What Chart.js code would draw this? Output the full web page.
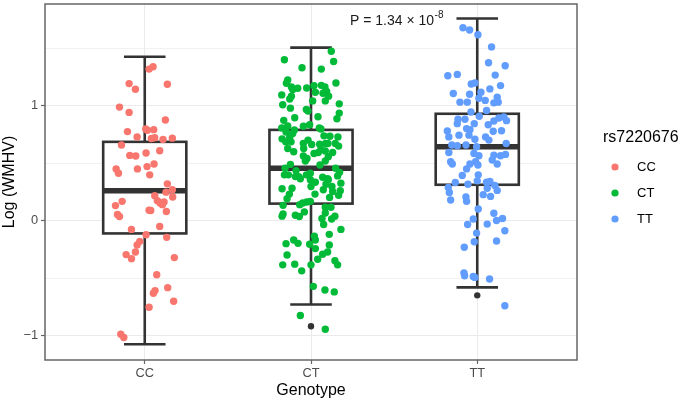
<!DOCTYPE html>
<html>
<head>
<meta charset="utf-8">
<script src="https://cdn.jsdelivr.net/npm/chart.js@4.4.1/dist/chart.umd.min.js"></script>
<style>
  html, body { margin: 0; padding: 0; background: #fff; }
  #wrap { width: 683px; height: 403px; }
</style>
</head>
<body>
<div id="wrap"><canvas id="chart" width="683" height="403"></canvas></div>
<script>
// genotype groups on the x axis
const genotypes = ['CC', 'CT', 'TT'];
const genoColors = ['#F8766D', '#00BA38', '#619CFF'];

// box stats (log WMHV)
const whiskerLow = [-1.072, -0.727, -0.578];
const boxQ1 = [-0.109, 0.150, 0.314];
const boxMedian = [0.262, 0.457, 0.644];
const boxQ3 = [0.687, 0.791, 0.931];
const whiskerHigh = [1.426, 1.506, 1.759];
const outlierGroup = [2, 3];
const outlierValue = [-0.916, -0.647];

// y ticks (major labelled, minor just grid)
const yTicks = [-1, -0.5, 0, 0.5, 1, 1.5];
const yLabels = { '-1': '\u22121', '0': '0', '1': '1' };

const pText = 'P = 1.34 \u00d7 10';
const pExp = '-8';
const legendTitle = 'rs7220676';

// jittered points: [jitter, log WMHV]
const ccPoints = [
  [0.026,1.319],[0.050,1.340],[-0.094,1.193],[-0.056,1.144],[0.136,1.187],[-0.152,0.989],[-0.094,0.943],[0.124,0.877],
  [-0.104,0.776],[0.006,0.799],[0.016,0.788],[0.054,0.793],[-0.046,0.730],[0.040,0.716],[0.060,0.722],[0.110,0.707],
  [0.166,0.719],[-0.140,0.659],[-0.090,0.569],[-0.054,0.564],[0.008,0.590],[0.090,0.609],[-0.172,0.452],[-0.158,0.414],
  [-0.044,0.452],[0.014,0.472],[0.056,0.495],[0.030,0.400],[0.136,0.322],[0.166,0.271],[0.128,0.250],[0.060,0.219],
  [0.168,0.207],[0.076,0.176],[0.092,0.155],[0.116,0.164],[0.106,0.141],[-0.176,0.133],[-0.136,0.170],[0.026,0.092],
  [0.036,0.090],[0.130,0.081],[-0.164,0.055],[-0.152,0.038],[0.090,-0.048],[-0.080,-0.074],[0.008,-0.121],[0.132,-0.143],
  [-0.030,-0.178],[-0.046,-0.209],[-0.056,-0.270],[-0.112,-0.293],[-0.080,-0.328],[0.178,-0.319],[0.072,-0.468],[0.138,-0.580],
  [0.062,-0.606],[0.052,-0.629],[0.174,-0.698],[0.026,-0.750],[-0.144,-0.985],[-0.126,-1.014]
];
const ctPoints = [
  [0.122,1.474],[-0.160,1.400],[0.136,1.385],[-0.054,1.331],[0.062,1.319],[-0.140,1.224],[-0.148,1.196],[0.150,1.198],
  [-0.118,1.164],[-0.110,1.141],[-0.080,1.153],[-0.026,1.155],[0.018,1.176],[0.026,1.118],[0.062,1.178],[0.084,1.164],
  [0.094,1.124],[0.072,1.109],[0.106,1.084],[-0.176,1.095],[-0.118,1.084],[-0.128,1.060],[0.010,1.043],[0.086,1.043],
  [0.170,1.017],[-0.170,1.009],[-0.124,0.980],[-0.028,0.969],[-0.018,0.954],[0.170,0.937],[-0.098,0.897],[0.042,0.905],
  [0.156,0.888],[-0.164,0.874],[-0.140,0.825],[-0.046,0.822],[-0.008,0.836],[-0.176,0.808],[0.050,0.808],[0.060,0.799],
  [-0.100,0.791],[-0.150,0.773],[-0.110,0.759],[0.078,0.739],[0.114,0.736],[0.162,0.730],[-0.174,0.713],[-0.128,0.728],
  [-0.152,0.687],[-0.120,0.687],[-0.046,0.672],[-0.018,0.702],[0.004,0.664],[0.052,0.667],[0.088,0.672],[0.102,0.672],
  [0.146,0.672],[0.166,0.650],[-0.140,0.629],[-0.104,0.601],[-0.044,0.629],[0.060,0.621],[0.086,0.607],[0.130,0.595],
  [-0.046,0.564],[0.018,0.586],[0.044,0.595],[0.104,0.558],[-0.024,0.543],[-0.034,0.521],[0.086,0.521],[-0.124,0.491],
  [-0.156,0.457],[0.054,0.486],[0.148,0.457],[0.172,0.422],[-0.090,0.437],[-0.004,0.414],[-0.160,0.400],[-0.136,0.400],
  [-0.074,0.385],[-0.028,0.400],[0.070,0.379],[0.104,0.357],[0.160,0.391],[-0.094,0.385],[-0.064,0.366],[-0.004,0.357],
  [0.026,0.336],[0.000,0.299],[0.100,0.366],[0.090,0.319],[0.126,0.299],[0.180,0.328],[-0.174,0.279],[-0.114,0.284],
  [-0.130,0.233],[-0.144,0.193],[0.074,0.271],[0.130,0.256],[0.176,0.262],[0.166,0.222],[0.024,0.233],[0.112,0.204],
  [-0.004,0.170],[-0.026,0.164],[-0.050,0.155],[-0.068,0.141],[-0.168,0.135],[0.086,0.118],[0.120,0.118],[-0.040,0.078],
  [-0.094,0.049],[-0.070,0.038],[-0.174,0.041],[-0.168,0.060],[0.086,0.069],[0.144,0.041],[0.124,0.017],[0.066,0.021],
  [0.076,-0.031],[0.180,-0.074],[0.110,-0.117],[0.020,-0.132],[0.026,-0.166],[-0.104,-0.166],[-0.078,-0.195],[-0.008,-0.203],
  [-0.150,-0.198],[0.110,-0.209],[0.026,-0.241],[0.100,-0.270],[0.070,-0.290],[-0.144,-0.296],[0.040,-0.333],[0.144,-0.347],
  [0.160,-0.382],[-0.170,-0.382],[-0.098,-0.376],[0.000,-0.382],[-0.056,-0.434],[0.014,-0.569],[0.084,-0.600],[0.140,-0.617],
  [-0.064,-0.822],[0.086,-0.942]
];
const ttPoints = [
  [-0.086,1.678],[-0.046,1.659],[0.004,1.618],[0.086,1.512],[0.068,1.374],[0.168,1.348],[-0.177,1.262],[-0.120,1.273],
  [0.108,1.267],[-0.036,1.190],[-0.014,1.198],[0.140,1.176],[-0.144,1.107],[-0.046,1.101],[0.076,1.147],[0.022,1.118],
  [0.010,1.066],[0.120,1.075],[0.126,1.032],[0.048,1.047],[-0.104,1.032],[-0.060,1.032],[0.100,1.026],[-0.038,0.946],
  [0.056,0.960],[0.012,0.909],[-0.116,0.883],[-0.074,0.883],[-0.018,0.845],[0.066,0.836],[0.100,0.868],[0.130,0.894],
  [0.160,0.903],[0.176,0.871],[-0.120,0.845],[-0.180,0.782],[-0.064,0.802],[-0.044,0.793],[0.096,0.779],[0.146,0.784],
  [-0.171,0.730],[-0.110,0.745],[-0.050,0.745],[-0.014,0.710],[0.050,0.730],[0.070,0.702],[0.174,0.672],[-0.153,0.659],
  [-0.120,0.653],[-0.068,0.659],[-0.004,0.644],[-0.171,0.595],[-0.020,0.586],[0.010,0.566],[0.100,0.572],[0.140,0.566],
  [0.170,0.578],[-0.160,0.515],[-0.150,0.495],[-0.010,0.515],[0.004,0.486],[0.090,0.529],[0.120,0.495],[-0.044,0.495],
  [-0.064,0.452],[-0.090,0.394],[0.006,0.400],[-0.132,0.334],[-0.056,0.319],[0.000,0.348],[0.056,0.336],[0.076,0.342],
  [0.106,0.308],[-0.174,0.291],[0.060,0.284],[0.120,0.265],[-0.168,0.247],[0.036,0.228],[0.080,0.213],[-0.068,0.207],
  [-0.064,0.170],[-0.160,0.181],[0.006,0.103],[0.100,0.066],[-0.024,0.017],[-0.058,-0.031],[0.060,-0.028],[0.116,0.003],
  [0.152,0.021],[0.166,-0.086],[-0.004,-0.106],[-0.018,-0.181],[0.116,-0.175],[-0.078,-0.229],[-0.080,-0.453],[-0.076,-0.477],
  [-0.024,-0.483],[-0.014,-0.491],[0.074,-0.505],[0.166,-0.738]
];

const FONT = '"Liberation Sans", Arial, Helvetica, sans-serif';
const groupPoints = [ccPoints, ctPoints, ttPoints];

const datasets = groupPoints.map((pts, i) => ({
  label: genotypes[i],
  data: pts.map(p => ({ x: i + 1 + p[0], y: p[1] })),
  backgroundColor: genoColors[i],
  borderWidth: 0,
  pointRadius: 3.7,
  pointHoverRadius: 3.7
}));
datasets.push({
  label: 'outliers',
  data: outlierGroup.map((g, k) => ({ x: g, y: outlierValue[k] })),
  backgroundColor: '#333333',
  borderWidth: 0,
  pointRadius: 3.2
});

// boxplot drawn underneath the points, through the chart scales
const boxPlugin = {
  id: 'boxes',
  beforeDatasetsDraw(chart) {
    const { ctx, scales: { x, y } } = chart;
    ctx.save();
    ctx.strokeStyle = '#333333';
    genotypes.forEach((g, i) => {
      const cx = x.getPixelForValue(i + 1);
      const halfBox = x.getPixelForValue(i + 1.25) - cx;
      const halfCap = x.getPixelForValue(i + 1.125) - cx;
      const yLo = y.getPixelForValue(whiskerLow[i]);
      const yQ1 = y.getPixelForValue(boxQ1[i]);
      const yMed = y.getPixelForValue(boxMedian[i]);
      const yQ3 = y.getPixelForValue(boxQ3[i]);
      const yHi = y.getPixelForValue(whiskerHigh[i]);
      ctx.lineWidth = 2.6;
      ctx.beginPath();
      ctx.moveTo(cx, yHi); ctx.lineTo(cx, yQ3);
      ctx.moveTo(cx, yQ1); ctx.lineTo(cx, yLo);
      ctx.moveTo(cx - halfCap, yHi); ctx.lineTo(cx + halfCap, yHi);
      ctx.moveTo(cx - halfCap, yLo); ctx.lineTo(cx + halfCap, yLo);
      ctx.stroke();
      ctx.fillStyle = '#ffffff';
      ctx.fillRect(cx - halfBox, yQ3, halfBox * 2, yQ1 - yQ3);
      ctx.strokeRect(cx - halfBox, yQ3, halfBox * 2, yQ1 - yQ3);
      ctx.lineWidth = 5.5;
      ctx.beginPath();
      ctx.moveTo(cx - halfBox, yMed); ctx.lineTo(cx + halfBox, yMed);
      ctx.stroke();
    });
    ctx.restore();
  }
};

// panel border, p value, legend
const decoPlugin = {
  id: 'deco',
  afterDraw(chart) {
    const { ctx, chartArea: a } = chart;
    ctx.save();
    ctx.strokeStyle = '#666666';
    ctx.lineWidth = 1.5;
    ctx.strokeRect(a.left, a.top, a.right - a.left, a.bottom - a.top);

    ctx.fillStyle = '#1a1a1a';
    ctx.textBaseline = 'middle';
    ctx.textAlign = 'left';
    ctx.font = '14px ' + FONT;
    ctx.fillText(pText, 350, 21);
    const w = ctx.measureText(pText).width;
    ctx.font = '10px ' + FONT;
    ctx.fillText(pExp, 350 + w + 0.5, 15);

    ctx.font = '16px ' + FONT;
    ctx.fillStyle = '#000';
    ctx.fillText(legendTitle, 603, 138);
    ctx.font = '13px ' + FONT;
    genotypes.forEach((g, i) => {
      const yy = 167 + i * 26;
      ctx.fillStyle = genoColors[i];
      ctx.beginPath();
      ctx.arc(615, yy, 3.6, 0, Math.PI * 2);
      ctx.fill();
      ctx.fillStyle = '#000';
      ctx.fillText(g, 637, yy);
    });
    ctx.restore();
  }
};

new Chart(document.getElementById('chart'), {
  type: 'scatter',
  data: { datasets },
  plugins: [boxPlugin, decoPlugin],
  options: {
    responsive: false,
    animation: false,
    devicePixelRatio: 1,
    layout: { padding: { left: 0, top: 1, right: 106, bottom: 0 } },
    plugins: { legend: { display: false }, tooltip: { enabled: false } },
    scales: {
      x: {
        type: 'linear',
        min: 0.4,
        max: 3.6,
        afterBuildTicks: s => { s.ticks = genotypes.map((g, i) => ({ value: i + 1 })); },
        afterFit: s => { s.height = 43; s.paddingLeft = 0; s.paddingRight = 0; },
        ticks: {
          callback: v => genotypes[v - 1],
          color: '#4D4D4D',
          font: { family: FONT, size: 12.8 },
          padding: 2,
          maxRotation: 0
        },
        grid: { color: '#EBEBEB', lineWidth: 1, tickLength: 4, tickColor: '#666666', tickWidth: 1.2 },
        border: { display: false },
        title: {
          display: true,
          text: 'Genotype',
          color: '#000',
          font: { family: FONT, size: 16 },
          padding: { top: 0, bottom: 3 }
        }
      },
      y: {
        min: -1.209,
        max: 1.885,
        afterBuildTicks: s => { s.ticks = yTicks.map(v => ({ value: v })); },
        afterFit: s => { s.width = 45; s.paddingTop = 0; s.paddingBottom = 0; },
        ticks: {
          callback: v => yLabels[String(v)] || '',
          color: '#4D4D4D',
          font: { family: FONT, size: 12.8 },
          padding: 3
        },
        grid: {
          color: '#EBEBEB',
          lineWidth: c => (Number.isInteger(c.tick.value) ? 1 : 0.7),
          tickLength: 4,
          tickColor: c => (Number.isInteger(c.tick.value) ? '#666666' : 'rgba(0,0,0,0)'),
          tickWidth: 1.2
        },
        border: { display: false },
        title: {
          display: true,
          text: 'Log (WMHV)',
          color: '#000',
          font: { family: FONT, size: 16 },
          padding: { top: 0, bottom: 0 }
        }
      }
    }
  }
});
</script>
</body>
</html>
